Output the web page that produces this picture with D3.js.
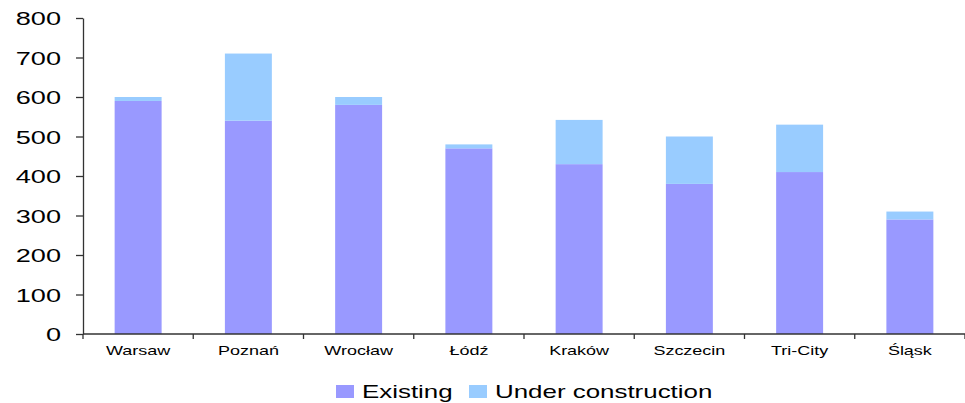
<!DOCTYPE html>
<html>
<head>
<meta charset="utf-8">
<script src="https://cdn.jsdelivr.net/npm/d3@7"></script>
<style>
  html, body { margin: 0; padding: 0; background: #fff; }
  svg { display: block; font-family: "Liberation Sans", Arial, sans-serif; }
</style>
</head>
<body>
<svg id="chart" width="965" height="403"></svg>
<script>
// Office stock by city (thousand sq m)
const cities = ["Warsaw", "Poznań", "Wrocław", "Łódź", "Kraków", "Szczecin", "Tri-City", "Śląsk"];
const existing = [590, 540, 580, 470, 430, 380, 410, 290];
const underConstruction = [10, 170, 20, 10, 112, 120, 120, 20];
const seriesNames = ["Existing", "Under construction"];
const seriesColors = ["#9999FF", "#99CCFF"];
const yTicks = [0, 100, 200, 300, 400, 500, 600, 700, 800];

// text in this chart is set in a wide face: glyphs are stretched horizontally
const wideText = (sel, sx) => sel.each(function () {
  const t = d3.select(this);
  const tx = +t.attr("x") || 0, ty = +t.attr("y") || 0;
  t.attr("x", 0).attr("y", 0)
   .attr("transform", `translate(${tx},${ty}) scale(${sx},1)`);
});

const svg = d3.select("#chart");
const margin = { left: 83, right: 0, top: 18, bottom: 69 };
const width = 965 - margin.left - margin.right;
const height = 403 - margin.top - margin.bottom;

const g = svg.append("g").attr("transform", `translate(${margin.left},${margin.top})`);

const x = d3.scaleBand().domain(cities).range([0, width]).paddingInner(0.574).paddingOuter(0.287);
const xOuter = d3.scaleBand().domain(cities).range([0, width]);
const y = d3.scaleLinear().domain([0, 800]).range([height, 0]);

const rows = cities.map((c, i) => ({ city: c, Existing: existing[i], "Under construction": underConstruction[i] }));
const stacked = d3.stack().keys(seriesNames)(rows);

// stacked bars
g.selectAll("g.series")
  .data(stacked)
  .join("g")
  .attr("class", "series")
  .attr("fill", (d, i) => seriesColors[i])
  .selectAll("rect")
  .data(d => d)
  .join("rect")
  .attr("x", d => x(d.data.city))
  .attr("width", x.bandwidth())
  .attr("y", d => y(d[1]))
  .attr("height", d => y(d[0]) - y(d[1]));

// y axis
const yAxis = g.append("g")
  .call(d3.axisLeft(y).tickValues(yTicks).tickSize(7).tickPadding(15).tickSizeOuter(0));
yAxis.select(".domain").attr("stroke", "#333").attr("stroke-width", 1.3);
yAxis.selectAll(".tick line").attr("stroke", "#333").attr("stroke-width", 1.3);
yAxis.selectAll(".tick text")
  .attr("font-size", 17.5)
  .attr("fill", "#000")
  .attr("font-family", "Liberation Sans, Arial, sans-serif")
  .attr("x", -22)
  .attr("dy", null)
  .attr("y", 6.5)
  .call(wideText, 1.55);

// x axis with ticks on category boundaries
const xAxisG = g.append("g").attr("transform", `translate(0,${height})`);
xAxisG.append("line")
  .attr("x1", 0).attr("x2", width)
  .attr("stroke", "#333").attr("stroke-width", 1.3);
const boundaries = cities.map(c => xOuter(c)).concat([width]);
xAxisG.selectAll("line.tk")
  .data(boundaries)
  .join("line")
  .attr("class", "tk")
  .attr("x1", d => d).attr("x2", d => d)
  .attr("y1", 0).attr("y2", 5)
  .attr("stroke", "#333").attr("stroke-width", 1.3);
xAxisG.selectAll("text")
  .data(cities)
  .join("text")
  .attr("x", d => xOuter(d) + xOuter.bandwidth() / 2)
  .attr("y", 21)
  .attr("text-anchor", "middle")
  .attr("font-size", 12)
  .attr("fill", "#000")
  .text(d => d)
  .call(wideText, 1.5);

// legend
const legend = svg.append("g").attr("transform", "translate(336,385)");
const legendOffsets = [0, 133];
seriesNames.forEach((name, i) => {
  const item = legend.append("g").attr("transform", `translate(${legendOffsets[i]},0)`);
  item.append("rect").attr("width", 18).attr("height", 13).attr("fill", seriesColors[i]);
  item.append("text")
    .attr("x", 26).attr("y", 13)
    .attr("font-size", 18.5)
    .attr("fill", "#000")
    .text(name)
    .call(wideText, 1.4);
});
</script>
</body>
</html>
